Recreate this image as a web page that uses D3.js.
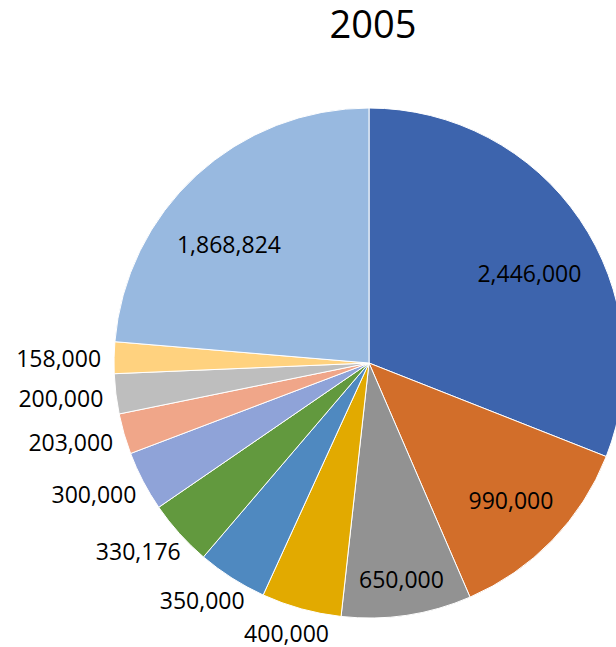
<!DOCTYPE html>
<html>
<head>
<meta charset="utf-8">
<script src="https://cdn.jsdelivr.net/npm/d3@7"></script>
<style>
  html, body { margin: 0; padding: 0; background: #fff; }
  svg { display: block; }
</style>
</head>
<body>
<svg id="chart" width="616" height="647"></svg>
<script>
const title = "2005";
const categories = ["A", "B", "C", "D", "E", "F", "G", "H", "I", "J", "K"];
const values = [2446000, 990000, 650000, 400000, 350000, 330176, 300000, 203000, 200000, 158000, 1868824];
const colors = ["#3D64AD", "#D26E2A", "#929292", "#E2AA00", "#4F89C0", "#62993E",
                "#8FA3D8", "#F0A689", "#BEBEBE", "#FFD27F", "#98B9E0"];

const svg = d3.select("#chart");
const cx = 369, cy = 363, R = 255;
const fmt = d3.format(",");

svg.append("text")
  .attr("x", 373).attr("y", 38)
  .attr("text-anchor", "middle")
  .style("font-family", "'Open Sans', 'Noto Sans', sans-serif")
  .style("font-size", "38px")
  .style("fill", "#000")
  .text(title);

const data = categories.map((c, i) => ({ cat: c, value: values[i], color: colors[i] }));
const total = d3.sum(values);

const pie = d3.pie().sort(null).value(d => d.value).startAngle(0).endAngle(2 * Math.PI);
const arcs = pie(data);
const arc = d3.arc().innerRadius(0).outerRadius(R);

const g = svg.append("g").attr("transform", `translate(${cx},${cy})`);

g.selectAll("path.slice")
  .data(arcs)
  .join("path")
  .attr("class", "slice")
  .attr("d", arc)
  .attr("fill", d => d.data.color)
  .attr("stroke", "#fff")
  .attr("stroke-width", 1);

const labelFont = "'Open Sans', 'Noto Sans', sans-serif";
const labels = g.selectAll("text.lbl")
  .data(arcs)
  .join("text")
  .attr("class", "lbl")
  .attr("text-anchor", "middle")
  .attr("dy", "0.36em")
  .style("font-family", labelFont)
  .style("font-size", "23px")
  .style("fill", "#000")
  .text(d => fmt(d.data.value));

labels.each(function(d) {
  let mid = (d.startAngle + d.endAngle) / 2;
  const frac = d.data.value / total;
  const w = this.getComputedTextLength();
  const h = 22;
  let x, y;
  if (frac > 0.08) {
    if (frac > 0.2) {
      // big slices: label pulled toward the horizontal
      const horiz = mid < Math.PI ? Math.PI / 2 : 3 * Math.PI / 2;
      mid = mid + 0.15 * (horiz - mid);
    }
    const r = R * Math.max(0.72, 1.017 - 1.93 * frac);
    x = Math.sin(mid) * r; y = -Math.cos(mid) * r;
  } else {
    const s = Math.sin(mid), c = Math.cos(mid);
    const r = R + 13;
    x = s * r + s * w / 2;
    y = -c * r - c * h / 2 + 2;
  }
  d3.select(this).attr("x", x).attr("y", y);
});
</script>
</body>
</html>
